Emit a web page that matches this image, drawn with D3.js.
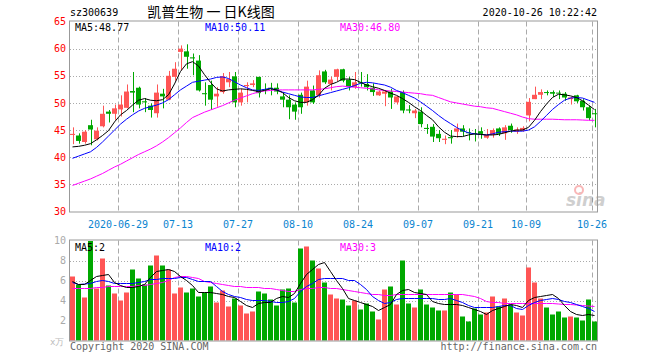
<!DOCTYPE html>
<html><head><meta charset="utf-8">
<script src="https://cdn.jsdelivr.net/npm/d3@7"></script>
<style>
body{margin:0;background:#fff}
svg{display:block}
text{font-family:"DejaVu Sans Mono","Liberation Mono",monospace;font-size:10px}
</style>
</head><body>
<svg id="c" width="660" height="360"></svg>
<script>
const dates = ["06-15","06-16","06-17","06-18","06-19","06-22","06-23","06-24","06-29","06-30",
"07-01","07-02","07-03","07-06","07-07","07-08","07-09","07-10","07-13","07-14",
"07-15","07-16","07-17","07-20","07-21","07-22","07-23","07-24","07-27","07-28",
"07-29","07-30","07-31","08-03","08-04","08-05","08-06","08-07","08-10","08-11",
"08-12","08-13","08-14","08-17","08-18","08-19","08-20","08-21","08-24","08-25",
"08-26","08-27","08-28","08-31","09-01","09-02","09-03","09-04","09-07","09-08",
"09-09","09-10","09-11","09-14","09-15","09-16","09-17","09-18","09-21","09-22",
"09-23","09-24","09-25","09-28","09-29","09-30","10-09","10-12","10-13","10-14",
"10-15","10-16","10-19","10-20","10-21","10-22","10-23","10-26"];

const openP = [44.1,44.0,42.8,45.9,43.3,45.7,48.4,48.0,48.8,49.1,52.2,52.8,50.3,49.5,48.1,51.7,50.6,54.8,59.4,59.5,58.4,57.8,51.8,53.3,51.2,52.0,53.8,54.9,50.1,53.1,53.3,54.8,52.5,52.8,52.8,51.2,50.6,49.7,51.5,50.1,52.3,51.4,55.8,53.5,54.8,56.2,54.3,52.9,53.8,53.5,52.8,51.4,51.7,52.1,50.1,52.0,48.8,48.1,48.4,45.4,45.6,44.3,43.2,43.7,44.7,45.3,44.6,44.4,44.8,43.6,44.1,45.3,44.4,45.8,44.7,44.9,47.7,50.7,51.5,52.0,52.0,51.9,51.7,50.7,51.4,50.4,49.2,48.1];
const highP = [45.5,44.4,45.0,46.9,45.5,49.5,48.7,49.7,51.4,53.4,55.7,53.0,50.9,49.9,53.4,52.6,55.9,57.5,60.6,60.8,59.1,58.8,53.8,54.1,52.9,55.5,55.7,55.7,52.6,53.8,54.2,54.8,53.6,53.7,53.6,52.0,51.4,50.1,51.9,54.1,53.2,56.0,56.1,54.8,56.3,56.3,54.8,55.7,55.7,55.3,53.6,52.3,52.2,52.6,51.3,52.3,49.6,48.9,49.2,46.1,46.1,45.0,44.0,45.0,46.2,45.9,45.3,45.2,45.5,45.2,45.3,45.5,45.9,46.2,45.5,45.7,50.9,53.0,52.5,52.3,52.3,52.3,52.0,51.1,51.5,50.7,49.5,48.9];
const lowP = [42.4,42.5,42.5,42.2,43.1,45.5,46.4,46.9,47.5,49.0,48.3,49.0,48.3,47.3,47.3,49.0,50.5,54.1,56.0,56.3,55.1,52.1,49.5,48.7,49.3,51.7,52.9,49.2,49.5,50.1,52.9,51.0,51.6,51.4,51.6,49.2,47.0,46.9,48.0,49.5,49.8,51.0,53.5,52.3,54.0,53.8,52.3,52.6,53.0,52.3,51.3,51.3,49.4,48.9,49.7,48.1,48.1,47.2,45.5,44.3,42.8,42.8,42.4,42.5,43.6,43.9,43.1,42.9,43.4,43.4,43.6,43.9,43.2,44.5,44.3,44.7,46.6,50.7,50.7,51.4,51.1,50.7,50.4,49.7,50.0,48.6,46.8,45.5];
const closeP = [44.3,43.0,44.7,45.1,44.9,48.0,48.0,49.0,49.7,52.1,51.9,49.7,50.1,48.7,51.9,51.2,55.0,56.3,60.0,58.5,58.2,52.3,51.6,50.6,51.7,54.9,54.4,50.1,51.9,53.3,53.6,51.8,52.4,52.7,52.1,50.6,49.2,48.4,49.2,53.0,50.1,55.1,53.8,54.3,56.2,54.1,53.0,53.8,53.6,52.9,52.0,52.1,52.1,51.0,51.2,48.6,48.6,48.6,46.1,45.2,43.8,43.5,43.4,43.5,45.3,44.7,44.5,44.3,44.3,44.1,45.0,44.3,45.5,45.0,45.1,45.4,50.2,51.5,52.0,51.9,51.7,51.8,51.0,51.0,50.3,49.2,47.2,48.0];
const volume = [6.4,5.6,4.3,9.95,5.2,8.2,5.5,4.7,4.0,4.8,7.1,6.2,5.6,7.5,8.5,7.5,7.1,4.7,5.3,4.8,5.2,4.4,4.8,5.4,3.8,5.0,3.4,4.2,3.5,2.7,2.9,4.9,4.7,4.1,3.5,5.1,5.2,3.8,9.2,9.4,8.0,7.2,5.8,4.6,4.2,4.1,3.5,4.0,3.1,3.7,2.9,2.1,5.1,5.4,3.6,8.0,3.7,3.3,5.1,3.6,3.3,3.0,3.0,4.8,4.6,2.4,1.9,3.2,2.6,2.8,4.4,3.4,4.2,3.6,2.8,2.5,7.3,5.8,4.2,3.3,2.6,2.9,2.3,2.4,2.3,2.0,4.1,1.9];

const ma5 = [41.9,42.0,42.2,42.5,43.2,44.0,44.9,46.5,47.8,48.6,49.6,50.5,50.8,50.5,50.4,50.6,51.5,53.5,55.8,57.2,57.6,56.8,55.2,53.8,52.6,52.2,52.4,52.5,52.6,52.5,52.3,52.1,52.3,52.6,52.4,51.9,51.0,50.4,50.1,50.1,50.6,51.4,52.7,53.4,53.8,54.4,54.4,54.3,53.8,53.3,53.0,52.7,52.3,51.8,51.4,50.8,50.1,49.3,48.6,47.7,46.9,45.6,44.6,43.9,43.8,43.8,44.1,44.3,44.2,44.1,44.1,44.2,44.5,44.8,45.0,45.0,45.5,46.8,48.4,49.8,51.0,51.6,51.5,51.3,51.0,50.4,49.6,48.77];
const ma10 = [39.8,40.2,40.6,41.0,41.8,42.8,43.9,45.0,46.1,47.0,47.8,48.5,49.0,49.3,49.6,50.0,50.6,51.5,52.4,53.1,53.8,54.0,54.2,54.4,54.7,54.8,54.5,53.9,53.3,52.8,52.4,52.3,52.5,52.7,52.4,52.0,51.7,51.4,51.1,51.0,51.0,51.3,51.6,51.9,52.2,52.5,52.8,53.2,53.6,53.8,53.7,53.5,53.3,52.9,52.3,51.9,51.4,50.9,50.2,49.4,48.6,47.7,46.9,46.2,45.5,44.9,44.5,44.3,44.2,44.1,44.3,44.6,44.7,44.8,44.8,44.8,45.0,45.6,46.6,47.7,48.8,49.7,50.5,50.9,51.0,50.9,50.5,50.11];
const ma30 = [34.8,35.2,35.6,36.0,36.5,37.0,37.6,38.2,38.7,39.3,39.9,40.5,41.0,41.5,42.1,42.8,43.6,44.5,45.4,46.4,47.3,47.8,48.3,48.7,49.1,49.5,50.0,50.5,50.9,51.3,51.7,52.0,52.2,52.3,52.4,52.4,52.4,52.4,52.4,52.4,52.4,52.5,52.6,52.8,53.0,53.1,53.0,52.9,52.8,52.7,52.6,52.4,52.3,52.2,52.1,52.0,51.9,51.8,51.7,51.5,51.4,51.0,50.6,50.2,50.0,49.8,49.6,49.4,49.3,49.1,49.0,48.7,48.4,48.1,47.8,47.4,47.1,47.0,47.0,47.0,47.0,46.95,46.9,46.9,46.9,46.85,46.8,46.8];
const vma5 = [5.9,5.6,5.6,6.0,6.4,6.5,6.6,5.8,5.5,5.3,5.3,5.4,5.6,6.3,6.9,7.0,7.1,6.9,6.4,6.0,5.5,4.8,4.8,4.8,4.7,4.6,4.4,4.3,3.9,3.5,3.3,3.7,3.8,3.8,4.2,4.4,4.3,4.7,5.7,6.6,7.1,7.6,7.8,6.9,6.0,5.2,4.2,4.0,3.8,3.6,3.4,3.0,3.3,3.6,4.6,5.0,5.1,4.8,4.7,4.6,3.9,3.7,3.6,3.6,3.6,3.5,3.3,3.1,2.9,2.6,3.0,3.2,3.4,3.6,3.5,3.3,4.0,4.3,4.4,4.5,4.6,4.2,3.5,2.9,2.6,2.5,2.6,2.5];
const vma10 = [5.8,5.6,5.65,5.7,5.9,6.0,5.9,5.7,5.7,5.7,5.7,5.8,5.9,6.1,6.1,6.2,6.2,6.2,6.3,6.3,6.1,5.9,5.9,5.9,5.4,4.9,4.6,4.4,4.3,4.1,4.0,4.0,4.0,3.9,3.8,3.8,3.9,4.2,4.9,5.4,5.7,6.1,6.2,6.2,6.2,6.2,6.0,6.0,5.6,5.1,4.4,4.0,3.7,3.8,4.1,4.2,4.2,4.2,4.2,4.2,4.2,4.1,4.1,4.2,4.0,3.8,3.5,3.3,3.3,3.3,3.3,3.4,3.5,3.5,3.2,3.1,3.5,3.8,4.0,4.1,4.2,4.1,3.9,3.8,3.6,3.4,3.2,2.9];
const vma30 = [5.2,5.2,5.2,5.2,5.3,5.3,5.4,5.4,5.4,5.4,5.4,5.5,5.5,5.6,5.7,5.8,6.0,6.3,6.4,6.4,6.3,6.2,5.9,5.8,5.7,5.6,5.5,5.4,5.4,5.3,5.3,5.3,5.2,5.2,5.1,5.0,4.9,4.9,5.1,5.2,5.2,5.3,5.3,5.2,5.2,5.1,5.0,4.9,4.8,4.7,4.6,4.6,4.5,4.5,4.6,4.6,4.6,4.6,4.6,4.6,4.6,4.6,4.6,4.6,4.6,4.6,4.5,4.4,4.2,3.9,3.8,3.8,3.7,3.7,3.7,3.7,3.7,3.7,3.7,3.7,3.7,3.65,3.6,3.6,3.55,3.5,3.45,3.4];

const tickDates = ["06-29","07-13","07-27","08-10","08-24","09-07","09-21","10-09","10-26"];
const tickLabels = ["2020-06-29","07-13","07-27","08-10","08-24","09-07","09-21","10-09","10-26"];
const priceTicks = [65,60,55,50,45,40,35,30];
const volTicks = [10,8,6,4,2];
const legendPrice = ["MA5:48.77","MA10:50.11","MA30:46.80"];
const legendVol = ["MA5:2","MA10:2","MA30:3"];

const RED = "#ff5555", GREEN = "#00a800", GRIDC = "#aaaaaa";
const svg = d3.select("#c");
svg.append("rect").attr("width",660).attr("height",360).attr("fill","#fff");

const L = 70, R = 597;
const x = d3.scaleBand().domain(d3.range(dates.length)).range([L, R]).paddingInner(1/6).paddingOuter(0);
const bw = x.bandwidth();
const cx = i => x(i) + bw/2;
const yP = d3.scaleLinear().domain([30,65]).range([211.5,21.5]);
const yV = d3.scaleLinear().domain([0,10]).range([340.5,240.5]);

// grids
function panel(top, bottom, y, ticks) {
  const g = svg.append("g");
  g.selectAll("line.h").data(ticks).join("line")
    .attr("x1",L).attr("x2",R).attr("y1",d=>Math.round(y(d))+0.5).attr("y2",d=>Math.round(y(d))+0.5)
    .attr("stroke",GRIDC).attr("stroke-dasharray","1,2");
  g.selectAll("line.v").data(tickDates).join("line")
    .attr("x1",d=>Math.round(x(dates.indexOf(d)))+0.5).attr("x2",d=>Math.round(x(dates.indexOf(d)))+0.5)
    .attr("y1",top).attr("y2",bottom)
    .attr("stroke",GRIDC).attr("stroke-dasharray","5,3");
}
panel(21.5, 211.5, yP, [60,55,50,45,40,35]);
panel(240.5, 340.5, yV, [8,6,4,2]);

// sina watermark
const wm = svg.append("g").attr("opacity",0.35);
wm.append("text").attr("x",566).attr("y",206).attr("fill","#777").attr("font-style","italic")
  .attr("font-weight","bold").style("font-family","DejaVu Sans").style("font-size","17px").text("sina");
wm.append("circle").attr("cx",579).attr("cy",190).attr("r",4).attr("fill","none").attr("stroke","#e33").attr("stroke-width",2);

// candles
const cg = svg.append("g");
dates.forEach((d,i)=>{
  const up = closeP[i] >= openP[i];
  const col = up ? RED : GREEN;
  cg.append("line").attr("x1",Math.round(cx(i))+0.5).attr("x2",Math.round(cx(i))+0.5)
    .attr("y1",yP(highP[i])).attr("y2",yP(lowP[i])).attr("stroke",col);
  const t = yP(Math.max(openP[i],closeP[i])), b = yP(Math.min(openP[i],closeP[i]));
  cg.append("rect").attr("x",Math.round(x(i))).attr("width",bw)
    .attr("y",t).attr("height",Math.max(1,b-t)).attr("fill",col);
});
// volume bars
svg.append("g").selectAll("rect").data(volume).join("rect")
  .attr("x",(d,i)=>Math.round(x(i))).attr("width",bw)
  .attr("y",d=>yV(d)).attr("height",d=>yV(0)-yV(d))
  .attr("fill",(d,i)=> closeP[i]>=openP[i] ? RED : GREEN);

// MA lines
const lineP = d3.line().x((d,i)=>cx(i)).y(d=>yP(d));
const lineV = d3.line().x((d,i)=>cx(i)).y(d=>yV(d));
[[ma30,"#ff00ff"],[ma10,"#0000ff"],[ma5,"#000000"]].forEach(([a,c])=>
  svg.append("path").attr("d",lineP(a)).attr("fill","none").attr("stroke",c).attr("stroke-width",1));
[[vma30,"#ff00ff"],[vma10,"#0000ff"],[vma5,"#000000"]].forEach(([a,c])=>
  svg.append("path").attr("d",lineV(a)).attr("fill","none").attr("stroke",c).attr("stroke-width",1));

// borders
svg.append("rect").attr("x",L-0.5).attr("y",21).attr("width",R-L+1).attr("height",191).attr("fill","none").attr("stroke","#999");
svg.append("rect").attr("x",L-0.5).attr("y",240).attr("width",R-L+1).attr("height",101).attr("fill","none").attr("stroke","#999");

// axes labels
const yAxisP = d3.axisLeft(yP).tickValues(priceTicks).tickSize(0).tickPadding(4);
const gy = svg.append("g").attr("transform",`translate(${L},0)`).call(yAxisP);
gy.select(".domain").remove();
gy.selectAll("text").attr("fill","#ff0000").style("font-size","10px").style("font-family","DejaVu Sans Mono");

const yAxisV = d3.axisLeft(yV).tickValues(volTicks).tickSize(0).tickPadding(4);
const gv = svg.append("g").attr("transform",`translate(${L},0)`).call(yAxisV);
gv.select(".domain").remove();
gv.selectAll("text").attr("fill","#aaaaaa").style("font-size","10px").style("font-family","DejaVu Sans Mono");

const xAxis = d3.axisBottom(x).tickValues(tickDates.map(d=>dates.indexOf(d)))
  .tickFormat((d)=>tickLabels[tickDates.indexOf(dates[d])]).tickSize(0).tickPadding(9);
const gx = svg.append("g").attr("transform",`translate(${-bw/2},211.5)`).call(xAxis);
gx.select(".domain").remove();
gx.selectAll("text").attr("fill","#0a84d0").style("font-size","10px").style("font-family","DejaVu Sans Mono");

// header
svg.append("text").attr("x",70).attr("y",16).attr("fill","#000").text("sz300639");
svg.append("text").attr("x",211).attr("y",17).attr("text-anchor","middle").attr("fill","#000")
  .style("font-family","'Noto Sans CJK SC'").style("font-size","14px").text("凯普生物 一 日K线图");
svg.append("text").attr("x",597).attr("y",16).attr("text-anchor","end").attr("fill","#000").text("2020-10-26 10:22:42");

const legX = [75, 205, 340], legC = ["#000","#0000ff","#ff00ff"];
legendPrice.forEach((t,i)=>svg.append("text").attr("x",legX[i]).attr("y",31).attr("fill",legC[i]).text(t));
legendVol.forEach((t,i)=>svg.append("text").attr("x",legX[i]).attr("y",251).attr("fill",legC[i]).text(t));

svg.append("text").attr("x",50).attr("y",345).attr("fill","#bbbbbb").style("font-size","9px").text("x万");
svg.append("text").attr("x",70).attr("y",350).attr("fill","#666").text("Copyright 2020 SINA.COM");
svg.append("text").attr("x",597).attr("y",350).attr("text-anchor","end").attr("fill","#666").text("http://finance.sina.com.cn");
</script>
</body></html>
